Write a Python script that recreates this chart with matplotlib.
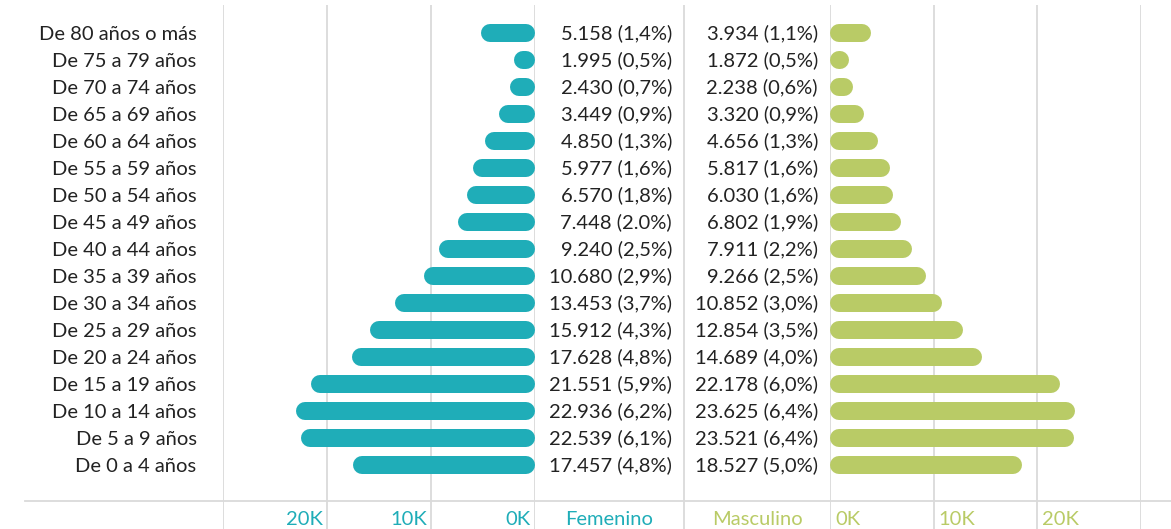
import matplotlib
matplotlib.use("Agg")
import matplotlib.pyplot as plt
from matplotlib.lines import Line2D
from matplotlib.transforms import offset_copy

# age groups, top row first
grupos = ["De 80 años o más", "De 75 a 79 años", "De 70 a 74 años", "De 65 a 69 años",
          "De 60 a 64 años", "De 55 a 59 años", "De 50 a 54 años", "De 45 a 49 años",
          "De 40 a 44 años", "De 35 a 39 años", "De 30 a 34 años", "De 25 a 29 años",
          "De 20 a 24 años", "De 15 a 19 años", "De 10 a 14 años", "De 5 a 9 años",
          "De 0 a 4 años"]
femenino = [5158, 1995, 2430, 3449, 4850, 5977, 6570, 7448, 9240, 10680, 13453,
            15912, 17628, 21551, 22936, 22539, 17457]
fem_pct = ["1,4", "0,5", "0,7", "0,9", "1,3", "1,6", "1,8", "2.0", "2,5", "2,9", "3,7",
           "4,3", "4,8", "5,9", "6,2", "6,1", "4,8"]
masculino = [3934, 1872, 2238, 3320, 4656, 5817, 6030, 6802, 7911, 9266, 10852,
             12854, 14689, 22178, 23625, 23521, 18527]
mas_pct = ["1,1", "0,5", "0,6", "0,9", "1,3", "1,6", "1,6", "1,9", "2,2", "2,5", "3,0",
           "3,5", "4,0", "6,0", "6,4", "6,4", "5,0"]
ticks = [0, 10000, 20000]
tick_labels = ["0K", "10K", "20K"]

TEAL = "#1FADB8"
GREEN = "#B9CB66"
GRID = "#DADADA"
TXT = "#222222"

plt.rcParams["font.family"] = ["Lato", "DejaVu Sans"]
FS = 14.5

W, H = 1171, 529
fig = plt.figure(figsize=(W / 100, H / 100), dpi=100)


def px_box(x0, x1, top=5, bottom=529):
    return [x0 / W, (H - bottom) / H, (x1 - x0) / W, (bottom - top) / H]


ylim = (-2.37, 17.04)
rows = [16 - i for i in range(len(grupos))]
XMAX = 30000
bar_px = 18


def setup(ax):
    ax.set_xlim(0, XMAX)
    ax.set_ylim(*ylim)
    for s in ax.spines.values():
        s.set_visible(False)
    ax.set_xticks([0, 10000, 20000, 30000])
    ax.tick_params(length=0, labelbottom=False)
    ax.grid(axis="x", color=GRID, lw=1.3)
    ax.set_axisbelow(True)


def rounded_bars(ax, vals, color, width_px):
    # round caps drawn inside the bar's extent
    r = XMAX * (bar_px / 2) / width_px
    for y, v in zip(rows, vals):
        x0, x1 = r, max(v - r, r)
        ax.plot([x0, x1], [y, y], color=color, lw=bar_px * 0.72,
                solid_capstyle="round", zorder=3)


# left panel (female)
axl = fig.add_axes(px_box(223, 535))
setup(axl)
axl.invert_xaxis()
rounded_bars(axl, femenino, TEAL, 312)
axl.set_yticks(rows)
axl.set_yticklabels(grupos, fontsize=FS, color=TXT)
axl.tick_params(axis="y", pad=19)
trl = offset_copy(axl.transData, fig=fig, x=-4, y=0, units="dots")
for t, lab in zip(ticks, tick_labels):
    axl.text(t, -2.0, lab, transform=trl, ha="right", va="center",
             color=TEAL, fontsize=FS)

# right panel (male)
axr = fig.add_axes(px_box(830, 1141))
setup(axr)
axr.set_yticks([])
rounded_bars(axr, masculino, GREEN, 311)
trr = offset_copy(axr.transData, fig=fig, x=5, y=0, units="dots")
for t, lab in zip(ticks, tick_labels):
    axr.text(t, -2.0, lab, transform=trr, ha="left", va="center",
             color=GREEN, fontsize=FS)

# middle columns with values
axm = fig.add_axes(px_box(535, 830))
axm.set_xlim(535, 830)
axm.set_ylim(*ylim)
axm.axis("off")
axm.axvline(684, color=GRID, lw=1.3)
for y, v, p in zip(rows, femenino, fem_pct):
    txt = f"{v:,}".replace(",", ".") + f" ({p}%)"
    axm.text(672, y, txt, ha="right", va="center", fontsize=FS, color=TXT)
for y, v, p in zip(rows, masculino, mas_pct):
    txt = f"{v:,}".replace(",", ".") + f" ({p}%)"
    axm.text(818, y, txt, ha="right", va="center", fontsize=FS, color=TXT)
axm.text(609, -2.0, "Femenino", ha="center", va="center", fontsize=FS, color=TEAL)
axm.text(757, -2.0, "Masculino", ha="center", va="center", fontsize=FS, color=GREEN)

# baseline across the bottom
fig.add_artist(Line2D([25 / W, 1.0], [(H - 501) / H, (H - 501) / H],
                      color=GRID, lw=1.3))

fig.savefig("out.png", dpi=100)
